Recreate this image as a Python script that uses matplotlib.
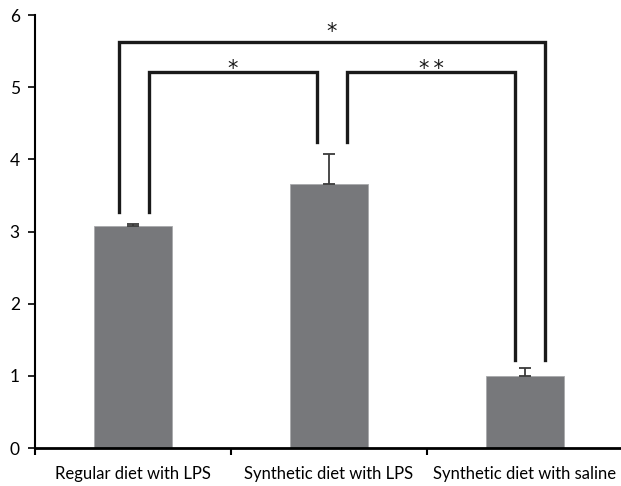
import matplotlib
matplotlib.use("Agg")
import matplotlib.pyplot as plt

plt.rcParams['font.family'] = ['Lato', 'DejaVu Sans']

# data
categories = ['Regular diet with LPS', 'Synthetic diet with LPS', 'Synthetic diet with saline']
values = [3.07, 3.66, 1.00]
errors = [0.03, 0.41, 0.11]

# significance brackets: left x, right x, left leg bottom, right leg bottom, top, label
bracket_left = [-0.071, 0.082, 1.092]
bracket_right = [2.102, 0.939, 1.949]
leg_left_bottom = [3.27, 3.27, 4.24]
leg_right_bottom = [1.22, 4.24, 1.22]
bracket_top = [5.62, 5.21, 5.21]
bracket_labels = ['*', '*', '*\u2009*']
label_gap = [0.10, 0.0, 0.0]  # extra lift of the star above its bracket

fig = plt.figure(figsize=(6.21, 4.86), dpi=100)
ax = fig.add_axes([35 / 621, 38 / 486, 588 / 621, 433 / 486])

x = range(len(categories))
ax.bar(x, values, width=0.4, color='#77787b', edgecolor='#a9aaac', linewidth=0.6, zorder=2)
ax.errorbar(x, values, yerr=[[0, 0, 0], errors], fmt='none', ecolor='#3a3a3a',
            elinewidth=1.3, capsize=4.5, capthick=1.3, zorder=3)

for xl, xr, yl, yr, top, lab, gap in zip(bracket_left, bracket_right, leg_left_bottom,
                                         leg_right_bottom, bracket_top, bracket_labels, label_gap):
    ax.plot([xl, xl, xr, xr], [yl, top, top, yr], color='#1a1a1a', lw=2.4,
            solid_joinstyle='miter', clip_on=False, zorder=4)
    ax.text((xl + xr) / 2, top - 0.04 + gap, lab, ha='center', va='baseline', fontsize=15,
            family='DejaVu Sans', color='#1a1a1a')

ax.set_xlim(-0.5, 2.5)
ax.set_ylim(0, 6)
ax.set_yticks(range(0, 7))
ax.set_xticks([-0.5, 0.5, 1.5, 2.5])
ax.set_xticklabels([])
ax.set_xticks(list(x), minor=True)
ax.set_xticklabels(categories, minor=True, fontsize=12)
ax.tick_params(axis='x', which='minor', length=0, pad=13)
ax.tick_params(axis='x', which='major', direction='out', length=5, width=1.5)
ax.tick_params(axis='y', direction='out', length=5, width=1.2, labelsize=12.5, pad=6)

for s in ['top', 'right']:
    ax.spines[s].set_visible(False)
ax.spines['left'].set_linewidth(1.5)
ax.spines['bottom'].set_linewidth(2)

fig.savefig('out.png', dpi=100)
